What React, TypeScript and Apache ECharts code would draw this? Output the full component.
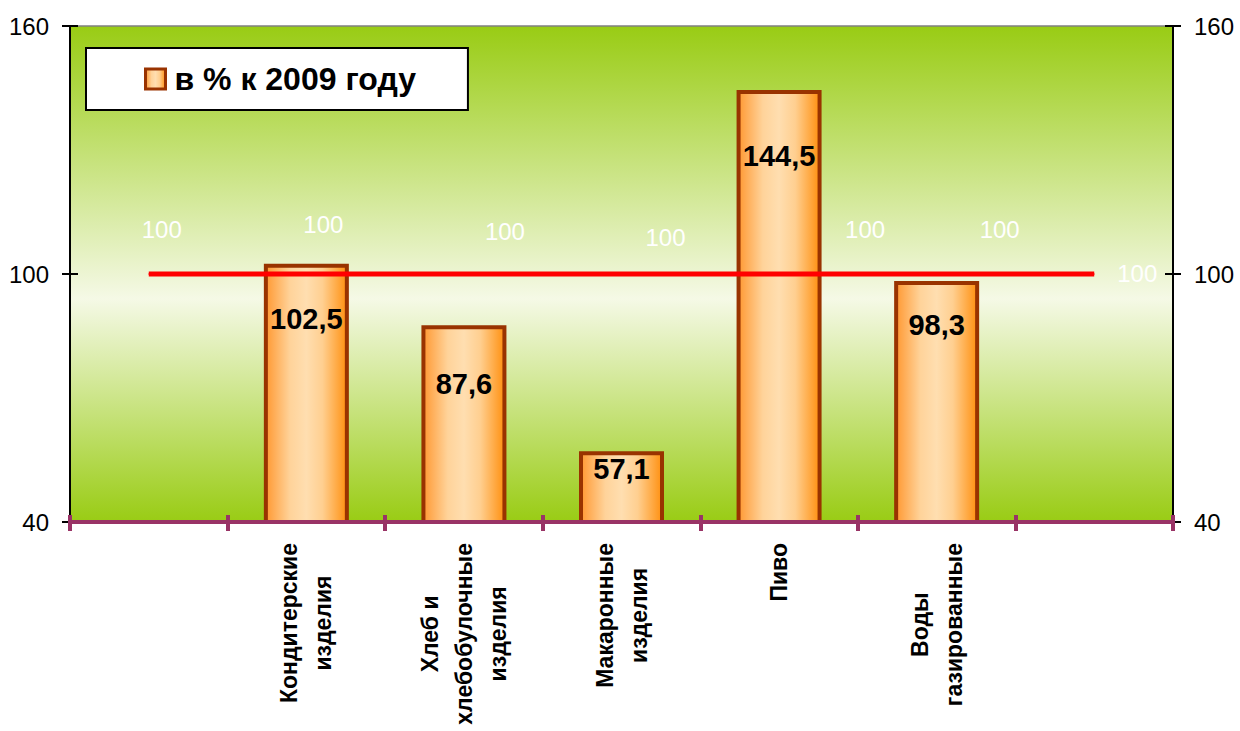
import React, { useEffect, useRef } from "react";
import * as echarts from "echarts";

// ---- data ----
const categories = [
  "",
  "Кондитерские\nизделия",
  "Хлеб и\nхлебобулочные\nизделия",
  "Макаронные\nизделия",
  "Пиво",
  "Воды\nгазированные",
  "",
];
const barValues: (number | null)[] = [null, 102.5, 87.6, 57.1, 144.5, 98.3, null];
const baseLineValues = [100, 100, 100, 100, 100, 100, 100];
const yMin = 40;
const yMax = 160;
const yStep = 60;
const seriesName = "в % к 2009 году";

// ---- styling (label placement) ----
const barLabelDistance = [0, 41, 44, 3, 51, 29, 0];
const lineLabelOffsets: [number, number][] = [
  [13, -45],
  [17, -50],
  [41, -43],
  [44, -37],
  [86, -45],
  [63, -45],
  [43, -1],
];

const FONT = "'Liberation Sans', Arial, sans-serif";
const PURPLE = "#993366";

export default function App() {
  const ref = useRef<HTMLDivElement>(null);

  useEffect(() => {
    if (!ref.current) return;
    const chart = echarts.init(ref.current, undefined, { renderer: "svg" });

    const barFill = new echarts.graphic.LinearGradient(0, 0, 1, 0, [
      { offset: 0, color: "#ff9933" },
      { offset: 0.3, color: "#ffd39a" },
      { offset: 0.5, color: "#ffdeb0" },
      { offset: 0.7, color: "#ffcf90" },
      { offset: 1, color: "#ff9010" },
    ]);

    const gridBg = new echarts.graphic.LinearGradient(0, 0, 0, 1, [
      { offset: 0, color: "#99cc14" },
      { offset: 0.55, color: "#f5f9e6" },
      { offset: 1, color: "#99cc14" },
    ]);

    const yBase = {
      type: "value",
      min: yMin,
      max: yMax,
      interval: yStep,
      splitLine: { show: false },
      axisLine: { show: true, lineStyle: { color: "#000", width: 2 } },
    };

    const option: any = {
      animation: false,
      backgroundColor: "#ffffff",
      textStyle: { fontFamily: FONT },
      grid: {
        left: 70,
        right: 67,
        top: 26,
        bottom: 209,
        show: true,
        backgroundColor: gridBg,
        borderColor: "#808080",
        borderWidth: 1.5,
      },
      legend: {
        data: [seriesName],
        left: 86,
        top: 48,
        orient: "horizontal",
        backgroundColor: "#ffffff",
        borderColor: "#000000",
        borderWidth: 2,
        borderRadius: 0,
        padding: [15, 52, 15, 58],
        itemWidth: 20,
        itemHeight: 20,
        icon: "rect",
        selectedMode: false,
        itemStyle: { borderWidth: 3 },
        textStyle: {
          fontFamily: FONT,
          fontSize: 32,
          fontWeight: "bold",
          color: "#000",
          lineHeight: 32,
          padding: [0, 0, 0, 4],
        },
      },
      xAxis: [
        {
          type: "category",
          data: categories,
          position: "bottom",
          z: 5,
          axisLine: { show: true, lineStyle: { color: PURPLE, width: 4 } },
          axisTick: {
            show: true,
            inside: false,
            length: 9,
            lineStyle: { color: PURPLE, width: 4 },
          },
          axisLabel: {
            interval: 0,
            rotate: 90,
            margin: 21,
            formatter: (v: string) =>
              v ? v.split("\n").map((l) => `{c|${l}}`).join("\n") : "",
            rich: {
              c: {
                fontFamily: FONT,
                fontSize: 23,
                fontWeight: "bold",
                lineHeight: 34,
                align: "center",
                color: "#000",
              },
            },
          },
        },
        {
          type: "category",
          data: categories,
          position: "bottom",
          z: 5,
          axisLine: { show: false },
          axisTick: {
            show: true,
            inside: true,
            length: 7,
            lineStyle: { color: PURPLE, width: 4 },
          },
          axisLabel: { show: false },
        },
      ],
      yAxis: [
        {
          ...yBase,
          position: "left",
          axisTick: { show: true, inside: false, length: 8, lineStyle: { color: "#000", width: 2 } },
          axisLabel: { margin: 21, fontSize: 24, color: "#000", fontFamily: FONT },
        },
        {
          ...yBase,
          position: "left",
          axisTick: { show: true, inside: true, length: 8, lineStyle: { color: "#000", width: 2 } },
          axisLabel: { show: false },
        },
        {
          ...yBase,
          position: "right",
          axisTick: { show: true, inside: false, length: 8, lineStyle: { color: "#000", width: 2 } },
          axisLabel: { margin: 21, fontSize: 24, color: "#000", fontFamily: FONT },
        },
        {
          ...yBase,
          position: "right",
          axisTick: { show: true, inside: true, length: 8, lineStyle: { color: "#000", width: 2 } },
          axisLabel: { show: false },
        },
      ],
      series: [
        {
          name: seriesName,
          type: "bar",
          xAxisIndex: 0,
          yAxisIndex: 0,
          barWidth: 85,
          itemStyle: {
            color: barFill,
            borderColor: "#993300",
            borderWidth: 4,
          },
          label: {
            show: true,
            position: "insideTop",
            fontFamily: FONT,
            fontSize: 29,
            fontWeight: "bold",
            color: "#000",
            formatter: (p: any) =>
              typeof p.value === "number" ? p.value.toFixed(1).replace(".", ",") : "",
          },
          data: barValues.map((v, i) =>
            v == null ? "-" : { value: v, label: { distance: barLabelDistance[i] } }
          ),
        },
        {
          name: "base",
          type: "line",
          xAxisIndex: 0,
          yAxisIndex: 0,
          symbol: "circle",
          symbolSize: 1,
          itemStyle: { color: "#ff0000" },
          lineStyle: { color: "#ff0000", width: 5 },
          label: {
            show: true,
            position: "inside",
            fontFamily: FONT,
            fontSize: 24,
            color: "#ffffff",
          },
          data: baseLineValues.map((v, i) => ({
            value: v,
            label: { offset: lineLabelOffsets[i] },
          })),
        },
      ],
    };

    chart.setOption(option);
    return () => {
      chart.dispose();
    };
  }, []);

  return (
    <div
      ref={ref}
      style={{
        position: "absolute",
        left: 0,
        top: 0,
        width: 1240,
        height: 731,
        background: "#fff",
      }}
    />
  );
}
